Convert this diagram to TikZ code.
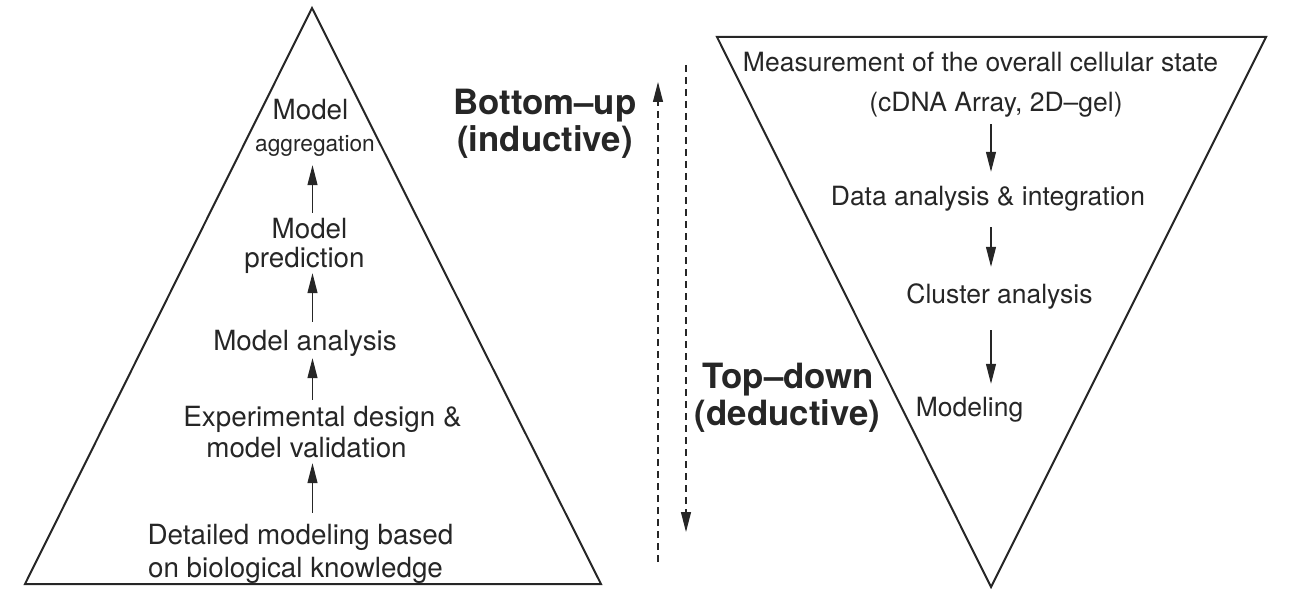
\documentclass[tikz,border=0pt]{standalone}
\usepackage{fontspec}
\setmainfont{TeX Gyre Heros}
\usetikzlibrary{arrows.meta}
\definecolor{ink}{RGB}{38,38,38}
\begin{document}
\begin{tikzpicture}[x=1pt,y=-1pt,
  tri/.style={draw=ink,line width=2pt,line join=miter},
  lt/.style={inner sep=0pt,anchor=base,text=ink,font=\fontsize{27.8}{31}\selectfont,text height=20pt,text depth=6pt},
  rt/.style={inner sep=0pt,anchor=base,text=ink,font=\fontsize{26.5}{30}\selectfont,text height=19pt,text depth=6pt},
  sm/.style={inner sep=0pt,anchor=base,text=ink,font=\fontsize{22.7}{26}\selectfont,text height=16pt,text depth=6pt},
  bt/.style={inner sep=0pt,anchor=base,text=ink,font=\fontsize{34.8}{38}\selectfont\bfseries},
  arr/.style={draw=ink,line width=1.2pt,-{Triangle[length=20pt,width=10pt]}},
  dashln/.style={draw=ink,line width=1.2pt,dash pattern=on 7pt off 5pt},
  darr/.style={dashln,-{Triangle[length=20pt,width=10pt]}}]
\useasboundingbox (0,0) rectangle (1294,599);

% triangles
\coordinate (L1) at (25,584);
\coordinate (L2) at (312,8);
\coordinate (L3) at (601,584);
\coordinate (R1) at (717,37);
\coordinate (R2) at (1266,37);
\coordinate (R3) at (991,587);
\draw[tri] (L1) -- (L2) -- (L3) -- cycle;
\draw[tri] (R1) -- (R2) -- (R3) -- cycle;

% left texts
\coordinate (ax) at (312.5,0);
\node[lt] (ag1) at (310.5,120) {Model};
\node[sm] (ag2) at (315,152) {aggregation};
\node[lt] (pr1) at (309.5,238) {Model};
\node[lt] (pr2) at (304.5,267) {prediction};
\node[lt] (ma) at (305,350) {Model analysis};
\node[lt] (ed1) at (322.5,426) {Experimental design \&};
\node[lt] (ed2) at (306.5,457) {model validation};
\node[lt] (dm1) at (300.5,544) {Detailed modeling based};
\node[lt] (dm2) at (295.5,577) {on biological knowledge};

\draw[arr,shorten <=11pt] (dm1.north -| ax) -- (ed2.south -| ax);
\draw[arr,shorten <=6pt,shorten >=2pt] (ed1.north -| ax) -- (ma.south -| ax);
\draw[arr,shorten <=8pt] (ma.north -| ax) -- (pr2.south -| ax);
\draw[arr,shorten <=5pt,shorten >=7pt] (pr1.north -| ax) -- (ag2.south -| ax);

% right texts
\coordinate (bx) at (991,0);
\node[rt] (me1) at (980.5,72) {Measurement of the overall cellular state};
\node[rt] (me2) at (996,112) {(cDNA Array, 2D–gel)};
\node[rt] (da) at (988,206) {Data analysis \& integration};
\node[rt] (cl) at (999.5,303) {Cluster analysis};
\node[rt] (mo) at (969.5,416) {Modeling};

\draw[arr,shorten <=6pt,shorten >=15pt] (me2.south -| bx) -- (da.north -| bx);
\draw[arr,shorten <=15pt,shorten >=17pt] (da.south -| bx) -- (cl.north -| bx);
\draw[arr,shorten <=21pt,shorten >=13pt] (cl.south -| bx) -- (mo.north -| bx);

% middle
\node[bt] (bu1) at (545,115) {Bottom–up};
\node[bt] (bu2) at (545,152) {(inductive)};
\node[bt] (td1) at (788.5,388) {Top–down};
\node[bt] (td2) at (787.5,425) {(deductive)};

\coordinate (ua) at (658,562);
\coordinate (ub) at (658,82);
\coordinate (da1) at (686,65);
\coordinate (da2) at (686,532);
\draw[darr] (ua) -- (ub);
\draw[darr] (da1) -- (da2);
\end{tikzpicture}
\end{document}
